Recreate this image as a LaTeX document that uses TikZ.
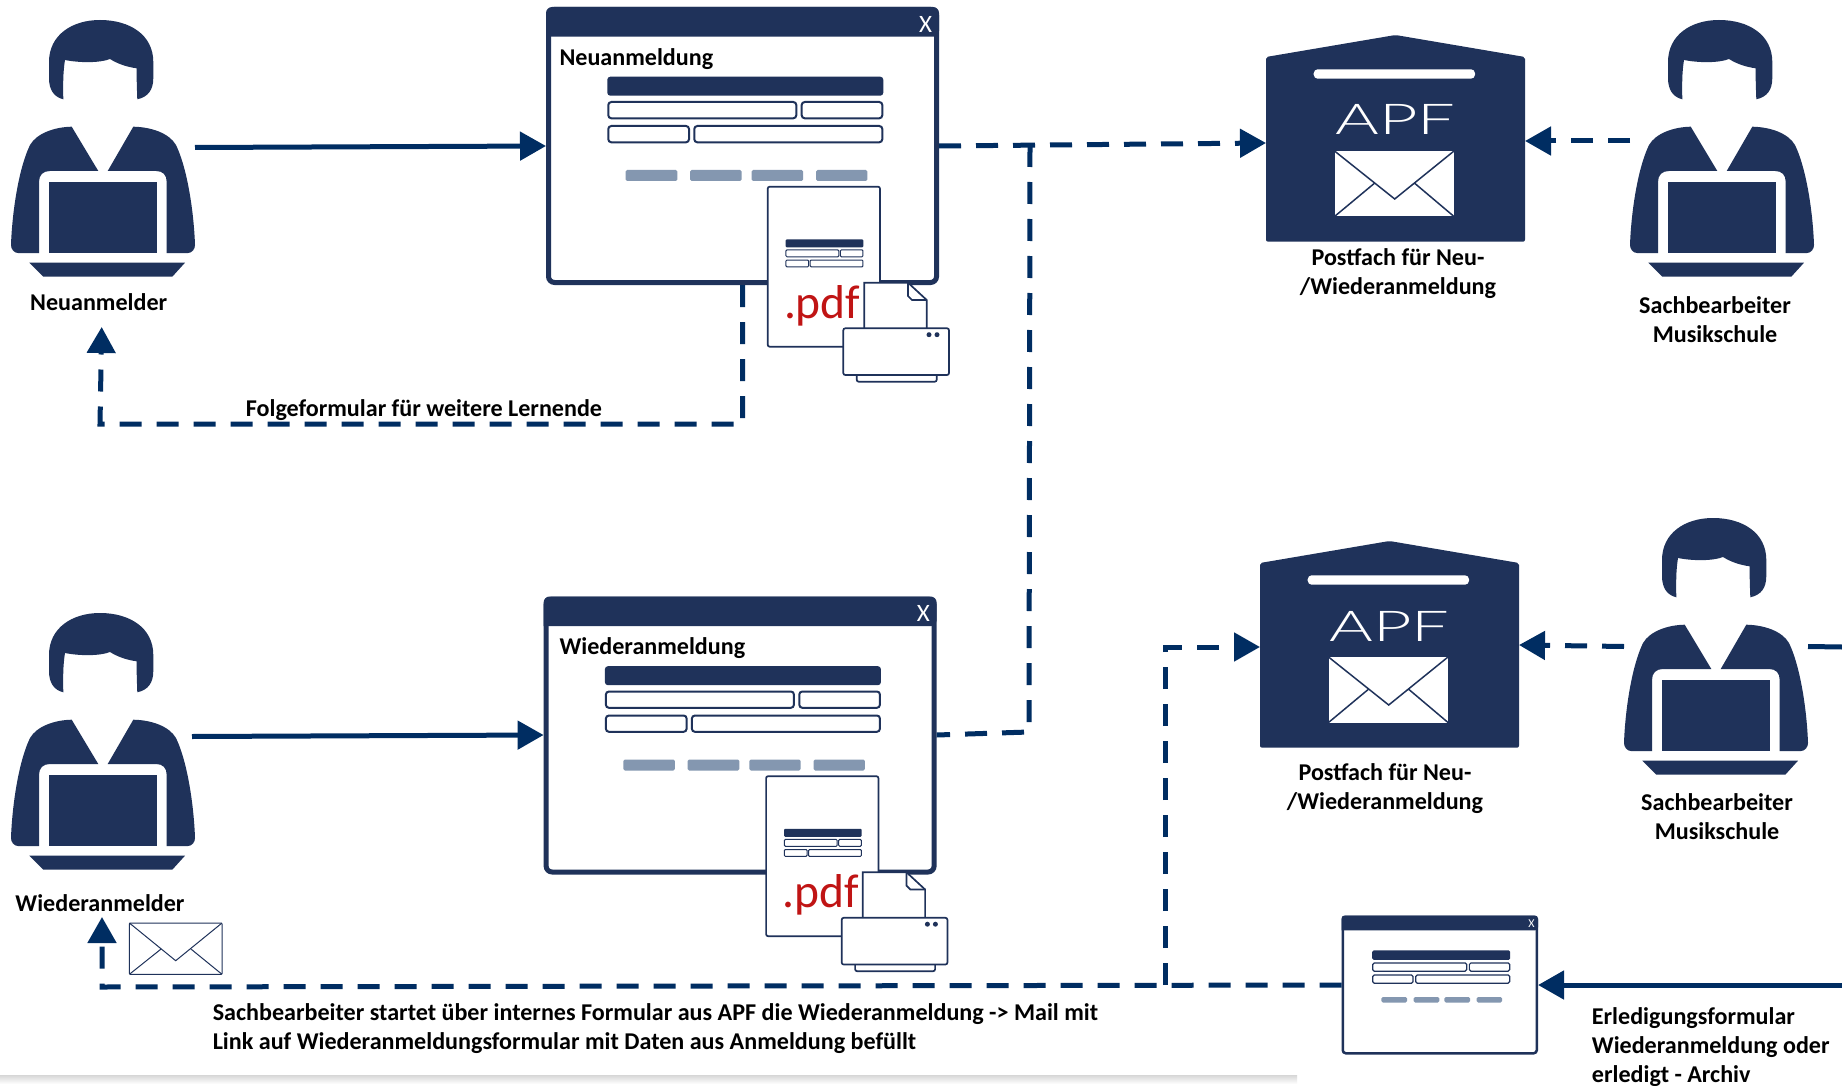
\documentclass[tikz,border=0pt]{standalone}
\usepackage{fontspec}
\setmainfont{Carlito}
\newfontfamily\apffont{Lato Light}
\usetikzlibrary{arrows.meta}
\definecolor{iconnavy}{RGB}{31,50,90}
\definecolor{linknavy}{RGB}{0,45,98}
\definecolor{btn}{RGB}{132,151,176}
\definecolor{pdfred}{RGB}{192,20,20}
\tikzset{
  lbl/.style={font=\bfseries\fontsize{24.1}{29}\selectfont,align=center,inner sep=0pt,text=black},
  lblleft/.style={lbl,align=left,anchor=west},
  box/.style={inner sep=0pt,outer sep=0pt,draw=none},
  solidlink/.style={draw=linknavy,line width=5pt,-{Triangle[length=26pt,width=28pt]}},
  dashlink/.style={draw=linknavy,line width=5pt,dash pattern=on 22pt off 15pt,-{Triangle[length=26pt,width=28pt]}},
  plainlink/.style={draw=linknavy,line width=5pt,dash pattern=on 22pt off 15pt},
}
% person icon, drawn at the origin of the Neuanmelder
\newcommand{\PersonIcon}[2]{\begin{scope}[shift={(#1,#2)}]
 \fill[iconnavy] (63.3,99.3) .. controls (54,97) and (49,90) .. (49,78) -- (49,62) .. controls (49,35) and (72,20) .. (100,20) .. controls (130,20) and (153.3,35) .. (153.3,62) -- (153.3,78) .. controls (153.3,90) and (148,97) .. (137.3,99.3) .. controls (137,90) and (136.5,80) .. (136.7,68.3) .. controls (127,67) and (118,64) .. (110,59) .. controls (100,63) and (80,63) .. (65,60) .. controls (63,72) and (63,85) .. (63.3,99.3) -- cycle;
 \fill[iconnavy] (71.7,126.7) -- (98.3,171) -- (50,171) .. controls (43,171) and (39,175) .. (39,182) -- (39,253) -- (18,253) .. controls (14,253) and (11,249) .. (11,245) .. controls (12,215) and (18,170) .. (30,145) .. controls (37,133) and (55,127) .. (71.7,126.7) -- cycle;
 \fill[iconnavy] (133.3,126.7) -- (107.7,171) -- (156,171) .. controls (163,171) and (166.7,175) .. (166.7,182) -- (166.7,253) -- (188,253) .. controls (192,253) and (195,249) .. (195,245) .. controls (194,215) and (188,170) .. (176,145) .. controls (169,133) and (151,127) .. (133.3,126.7) -- cycle;
 \fill[iconnavy] (49,182.3) rectangle (156.7,253);
 \fill[iconnavy] (29.3,262.7) -- (185,262.7) -- (172.3,276.7) -- (43.3,276.7) -- cycle;
\end{scope}}
% fields of a form: #1 stroke, #2 radius
\newcommand{\FormFields}[2]{
 \fill[iconnavy,rounded corners=#2] (61.3,69.7) rectangle (337.3,88.7);
 \draw[iconnavy,fill=white,line width=#1,rounded corners=#2] (62.3,95) rectangle (250.3,111.3);
 \draw[iconnavy,fill=white,line width=#1,rounded corners=#2] (255.7,95) rectangle (336.3,111.3);
 \draw[iconnavy,fill=white,line width=#1,rounded corners=#2] (62.3,119) rectangle (143,135.3);
 \draw[iconnavy,fill=white,line width=#1,rounded corners=#2] (148.3,119) rectangle (336.3,135.3);
}
% window: #1 x, #2 y, #3 scale, #4 border, #5 radius, #6 field stroke, #7 X size
\newcommand{\WindowIcon}[7]{\begin{scope}[shift={(#1,#2)},scale=#3]
 \draw[iconnavy,fill=white,line width=#4,rounded corners=#5] (2.5,2.5) rectangle (390.5,275.5);
 \fill[iconnavy,rounded corners=#5] (0,29.7) -- (0,0) -- (393,0) -- (393,29.7) [sharp corners] -- cycle;
 \FormFields{#6}{#5/2}
 \foreach \a/\b in {79.7/131.3,144/195.7,205.7/257,270/321.3}
   \fill[btn,rounded corners=1.5pt] (\a,163) rectangle (\b,174);
 \node[box,text=white,font=\fontsize{#7}{#7}\selectfont] (xmark#1) at (379.7,17) {X};
\end{scope}}
% printed pdf: drawn at Neuanmeldung's position
\newcommand{\PdfPrinter}[2]{\begin{scope}[shift={(#1,#2)}]
 \draw[iconnavy,fill=white,line width=1.7pt,rounded corners=2pt] (767.7,186.7) rectangle (880,346.7);
 \begin{scope}[shift={(785.7,239.3)},xscale=.281,yscale=.42,shift={(-61.3,-69.7)}]
   \FormFields{1pt}{1pt}
 \end{scope}
 \node[box,anchor=base west,text=pdfred,font=\fontsize{47.5}{47.5}\selectfont] (pdftxt#2) at (784,318) {.pdf};
 \draw[iconnavy,fill=white,line width=1.7pt] (864.3,328) -- (864.3,282.7) -- (908,282.7) -- (926.7,300) -- (926.7,328);
 \draw[iconnavy,line width=1.7pt] (908,282.7) -- (908,296) -- (912,300) -- (926.7,300);
 \draw[iconnavy,fill=white,line width=1.7pt,rounded corners=2pt] (856.7,370) rectangle (936.7,381.7);
 \draw[iconnavy,fill=white,line width=1.7pt,rounded corners=2pt] (843.3,328.3) rectangle (949,375);
 \fill[iconnavy] (929,334.7) circle (2.5pt) (937,334.7) circle (2.5pt);
\end{scope}}
% mailbox
\newcommand{\ApfBox}[2]{\begin{scope}[shift={(#1,#2)}]
 \fill[iconnavy,rounded corners=2pt] (1266,57) -- (1395.5,35) -- (1525,57) -- (1525,241.7) -- (1266,241.7) -- cycle;
 \fill[white,rounded corners=4pt] (1313.7,69.3) rectangle (1475,78.7);
 \node[box,anchor=base,text=white,font=\apffont\fontsize{42.5}{42.5}\selectfont] (apftxt#2) at (1395.5,135) {\scalebox{1.57}[1]{APF}};
 \fill[white] (1334.5,151) rectangle (1454,216.5);
 \draw[iconnavy,line width=1.5pt] (1334.5,151) -- (1394.7,199) -- (1454,151) (1334.5,216.5) -- (1374.4,183.3) (1454,216.5) -- (1414.7,183.3);
\end{scope}}
\begin{document}
\begin{tikzpicture}[x=1pt,y=-1pt]
\useasboundingbox (0,0) rectangle (1842,1086);
\fill[white] (0,0) rectangle (1842,1086);
\shade[top color=black!16,bottom color=white] (0,1075) rectangle (1297,1084);

% invisible boxes that the connectors attach to
\node[box,minimum width=184pt,minimum height=257pt] (pNeu) at (103,148.5) {};
\node[box,minimum width=184pt,minimum height=257pt] (pWie) at (100,741.5) {};
\node[box,minimum width=184pt,minimum height=257pt] (pSb1) at (1722,148.5) {};
\node[box,minimum width=184pt,minimum height=257pt] (pSb2) at (1716,646.5) {};
\node[box,minimum width=393pt,minimum height=278pt] (winNeu) at (742.5,146) {};
\node[box,minimum width=393pt,minimum height=278pt] (winWie) at (740.1,735) {};
\node[box,minimum width=196.5pt,minimum height=139pt] (winErl) at (1439.8,985) {};
\node[box,minimum width=259pt,minimum height=198pt] (apf1) at (1395.5,143) {};
\node[box,minimum width=259pt,minimum height=198pt] (apf2) at (1389.5,649) {};

\PersonIcon{0}{0}
\PersonIcon{0}{593}
\PersonIcon{1619}{0}
\PersonIcon{1613}{498}
\WindowIcon{546}{7}{1}{5pt}{6pt}{2pt}{25}
\WindowIcon{543.6}{596.5}{1}{5pt}{6pt}{2pt}{25}
\WindowIcon{1341.5}{915.5}{.5}{2.5pt}{3pt}{1.2pt}{12}
\ApfBox{0}{0}
\ApfBox{-6}{506}

% coordinates of bends and free ends
\coordinate (j1) at (1030,145);
\coordinate (j1b) at (1029,732);
\coordinate (f1) at (742.5,424);
\coordinate (f2) at (100,424);
\coordinate (tipNeu) at (101.7,327);
\coordinate (b1) at (102,987);
\coordinate (tipWie) at (102,917);
\coordinate (j2) at (1165,985);
\coordinate (j2b) at (1165,647);
\coordinate (edgeA) at (1842,647);
\coordinate (edgeB) at (1842,985);

% connectors
\draw[solidlink] ([yshift=1pt]pNeu.east) -- (winNeu.west);
\draw[solidlink] ([yshift=5pt]pWie.east) -- (winWie.west);
\draw[dashlink] (winNeu.east) -- (apf1.west);
\draw[plainlink] (j1) -- (j1b) -- (winWie.east);
\draw[dashlink] (winNeu.south) -- (f1) -- (f2) -- (tipNeu);
\draw[dashlink] ([yshift=7.5pt]pSb1.west) -- ([yshift=2pt]apf1.east);
\draw[dashlink] (pSb2.west) -- ([yshift=4pt]apf2.east);
\draw[draw=linknavy,line width=5pt] (pSb2.east) -- (edgeA);
\draw[solidlink] (edgeB) -- (winErl.east);
\draw[dashlink] (winErl.west) -- (b1) -- (tipWie);
\draw[dashlink] (j2) -- (j2b) -- ([yshift=2pt]apf2.west);

\PdfPrinter{0}{0}
\PdfPrinter{-1.6}{589.5}

% envelope beside the Wiederanmelder
\draw[iconnavy,fill=white,line width=1pt,rounded corners=1pt] (129.4,923) rectangle (222,974.3);
\draw[iconnavy,line width=1pt] (129.4,923) -- (175.7,960.7) -- (222,923) (129.4,974.3) -- (160.7,949.3) (222,974.3) -- (191.3,949.3);

% labels
\node[lbl] (tNeu) at (98.7,302.5) {Neuanmelder};
\node[lbl] (tWie) at (100,903.5) {Wiederanmelder};
\node[box,lbl,anchor=base west] (tWinNeu) at (559.5,66) {Neuanmeldung};
\node[box,lbl,anchor=base west] (tWinWie) at (559.5,654) {Wiederanmeldung};
\node[lbl] (tFolge) at (424,409.6) {Folgeformular für weitere Lernende};
\node[lbl] (tPost1) at (1398,274) {Postfach für Neu-\\/Wiederanmeldung};
\node[lbl] (tPost2) at (1385,788.5) {Postfach für Neu-\\/Wiederanmeldung};
\node[lbl] (tSb1) at (1715,320) {Sachbearbeiter\\Musikschule};
\node[lbl] (tSb2) at (1717,816.5) {Sachbearbeiter\\Musikschule};
\node[lblleft] (tStart) at (212.6,1028.3) {Sachbearbeiter startet über internes Formular aus APF die Wiederanmeldung -> Mail mit\\Link auf Wiederanmeldungsformular mit Daten aus Anmeldung befüllt};
\node[lblleft] (tErl) at (1591.7,1047) {Erledigungsformular\\Wiederanmeldung oder\\erledigt - Archiv};
\end{tikzpicture}
\end{document}
